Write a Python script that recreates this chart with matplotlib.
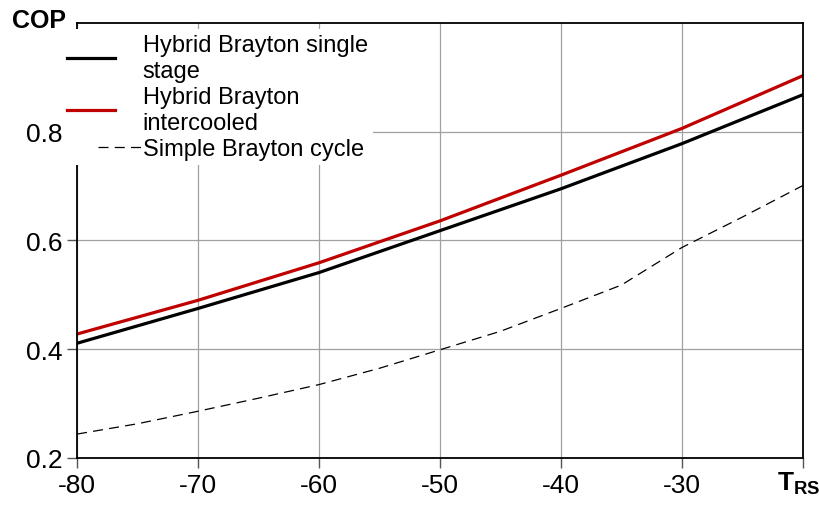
import matplotlib.pyplot as plt
from matplotlib.legend_handler import HandlerLine2D

plt.rcParams['font.family'] = ['Liberation Sans', 'DejaVu Sans']
plt.rcParams['mathtext.fontset'] = 'custom'
plt.rcParams['mathtext.bf'] = 'Liberation Sans:bold'

t_rs = [-80, -70, -60, -50, -40, -30, -20]
cop_single = [0.411, 0.475, 0.541, 0.618, 0.695, 0.778, 0.868]
cop_inter = [0.428, 0.490, 0.559, 0.636, 0.720, 0.806, 0.903]

t_simple = [-80, -75, -70, -65, -60, -55, -50, -45, -40, -35, -30, -25, -20]
cop_simple = [0.244, 0.263, 0.286, 0.310, 0.335, 0.365, 0.399, 0.433,
              0.475, 0.518, 0.587, 0.643, 0.701]

xtick_labels = ['-80', '-70', '-60', '-50', '-40', '-30', '']


# the dashed entry sits further right in the legend, next to its text
class ShiftedLine(HandlerLine2D):
    def __init__(self, shift, **kw):
        super().__init__(**kw)
        self.shift = shift

    def create_artists(self, legend, orig_handle, xdescent, ydescent, width, height,
                       fontsize, trans):
        return super().create_artists(legend, orig_handle, xdescent - self.shift, ydescent,
                                      width, height, fontsize, trans)


fig = plt.figure(figsize=(8.2, 5.1), dpi=100)
ax = fig.add_axes([0.094, 0.1, 0.885, 0.853])

ax.plot(t_rs, cop_single, color='black', lw=2.3, label='Hybrid Brayton single\nstage')
ax.plot(t_rs, cop_inter, color='#C00000', lw=2.3, label='Hybrid Brayton\nintercooled')
dashed, = ax.plot(t_simple, cop_simple, color='black', lw=0.9, dashes=(8, 5),
                  label='Simple Brayton cycle')

ax.set_xlim(-80, -20)
ax.set_ylim(0.2, 1.0)
ax.set_xticks(t_rs)
ax.set_xticklabels(xtick_labels)
ax.set_yticks([0.2, 0.4, 0.6, 0.8])
ax.set_yticklabels(['0.2', '0.4', '0.6', '0.8'])
ax.tick_params(axis='both', labelsize=19, direction='out', length=7, width=1, color='#555555')
ax.tick_params(axis='x', pad=4)
ax.grid(color='#a0a0a0', lw=0.9)
ax.set_axisbelow(True)
for s in ax.spines.values():
    s.set_linewidth(1.3)

ax.text(-0.0895, 1.007, 'COP', transform=ax.transAxes, fontsize=18, fontweight='bold',
        ha='left', va='center')
ax.annotate(r'$\mathbf{T}_{\mathbf{RS}}$', xy=(1, 0), xycoords='axes fraction',
            xytext=(13, -8), textcoords='offset points', ha='right', va='top',
            fontsize=19)

leg = ax.legend(loc='upper left', bbox_to_anchor=(-0.02, 0.985), fontsize=17,
                handlelength=2.0, handletextpad=1.2, labelspacing=0.2,
                borderpad=0.2, borderaxespad=0, frameon=True, fancybox=False,
                handler_map={dashed: ShiftedLine(22)})
leg.get_frame().set_facecolor('white')
leg.get_frame().set_edgecolor('none')
leg.get_frame().set_alpha(1)

fig.savefig('out.png', dpi=100)
